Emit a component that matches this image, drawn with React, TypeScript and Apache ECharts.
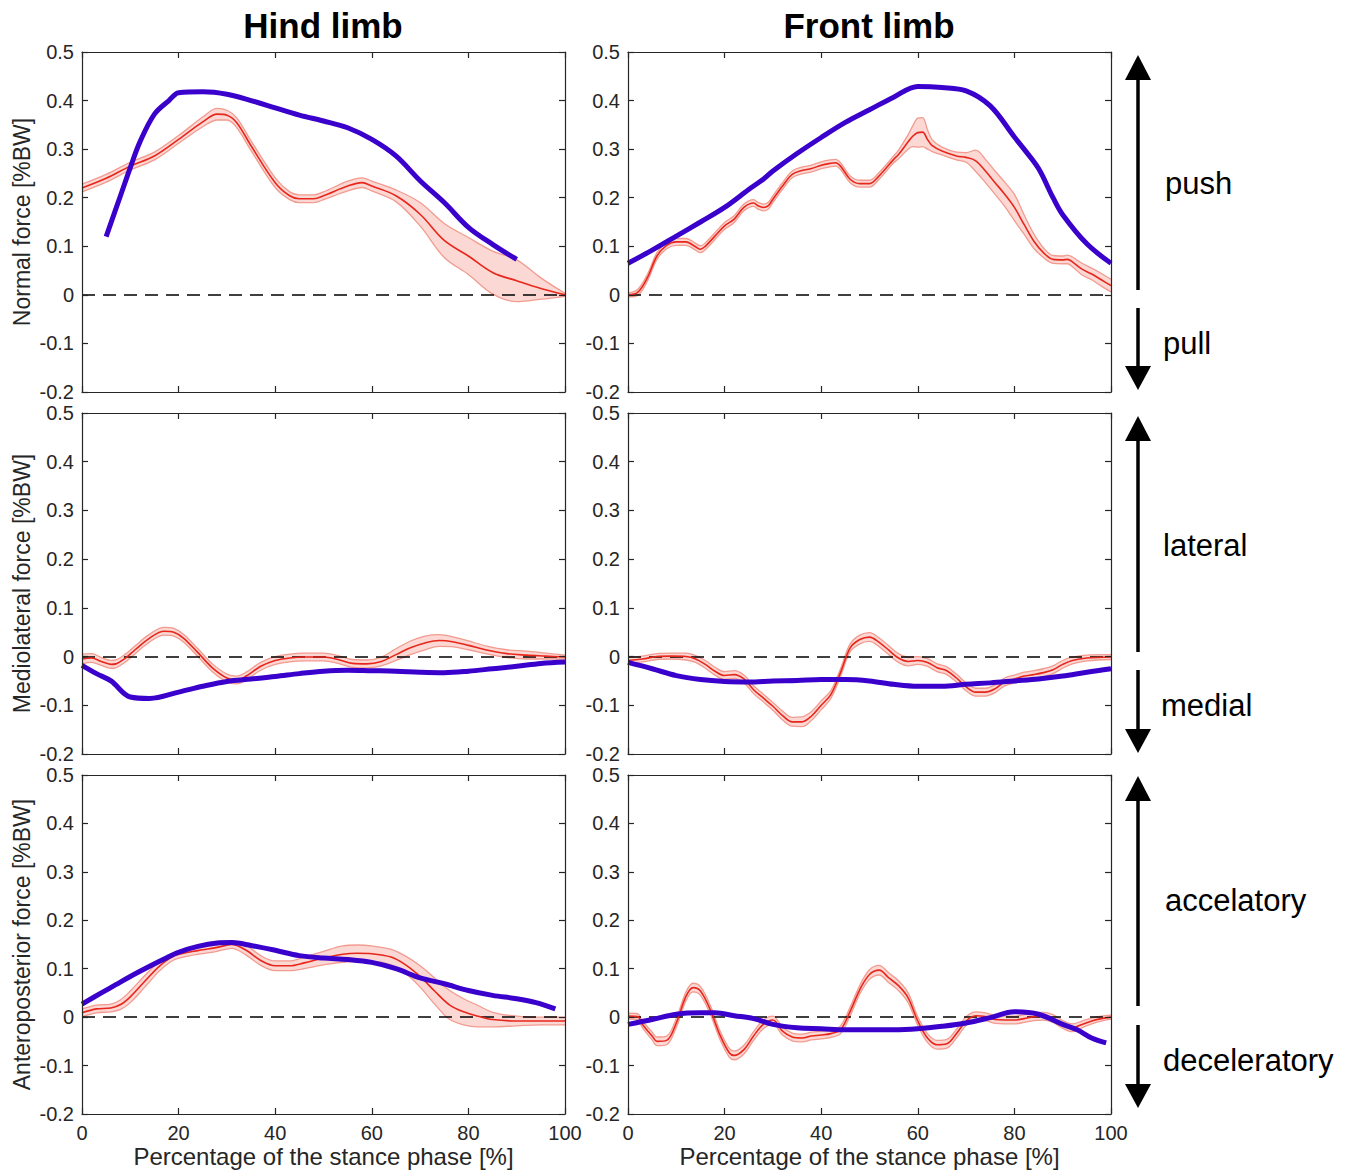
import React, { useEffect, useRef } from "react";
import * as echarts from "echarts";

// ---------- Data ----------
// Hind limb, normal force
const hindNormalX = [0, 5, 10, 15, 20, 25, 28, 30, 32, 35, 40, 43, 45, 48, 50, 55, 58, 60, 65, 70, 75, 80, 85, 90, 95, 100];
const hindNormalMean = [0.22, 0.24, 0.265, 0.286, 0.32, 0.356, 0.372, 0.37, 0.355, 0.307, 0.231, 0.204, 0.198, 0.198, 0.204, 0.224, 0.231, 0.224, 0.204, 0.166, 0.112, 0.08, 0.046, 0.029, 0.013, 0];
const hindNormalSd = [0.008, 0.008, 0.008, 0.008, 0.008, 0.01, 0.012, 0.01, 0.01, 0.01, 0.01, 0.008, 0.008, 0.008, 0.008, 0.01, 0.01, 0.01, 0.012, 0.024, 0.035, 0.038, 0.044, 0.043, 0.022, 0.003];
const hindNormalBlueX = [5, 8, 10, 12, 15, 18, 20, 25, 30, 35, 40, 45, 50, 55, 60, 65, 70, 75, 80, 85, 90];
const hindNormalBlue = [0.12, 0.205, 0.262, 0.315, 0.372, 0.4, 0.416, 0.418, 0.413, 0.4, 0.385, 0.37, 0.358, 0.344, 0.32, 0.286, 0.235, 0.19, 0.139, 0.104, 0.073];

// Front limb, normal force
const frontNormalX = [0, 2, 4, 6, 8, 10, 12, 14, 15, 16, 18, 20, 22, 24, 26, 27, 28, 29, 30, 32, 34, 36, 38, 40, 42, 43, 44, 46, 48, 50, 52, 55, 56, 58, 59, 60, 61, 62, 63, 65, 68, 70, 72, 74, 76, 78, 80, 82, 84, 86, 88, 90, 91, 92, 94, 96, 98, 100];
const frontNormalMean = [0, 0.005, 0.035, 0.08, 0.102, 0.109, 0.109, 0.099, 0.094, 0.1, 0.121, 0.142, 0.156, 0.18, 0.189, 0.183, 0.18, 0.183, 0.197, 0.224, 0.248, 0.256, 0.26, 0.267, 0.271, 0.272, 0.265, 0.238, 0.229, 0.229, 0.245, 0.279, 0.289, 0.315, 0.327, 0.334, 0.335, 0.32, 0.307, 0.296, 0.286, 0.283, 0.276, 0.255, 0.231, 0.207, 0.18, 0.145, 0.111, 0.087, 0.073, 0.072, 0.073, 0.068, 0.053, 0.043, 0.031, 0.019];
const frontNormalSd = [0.004, 0.006, 0.007, 0.007, 0.007, 0.007, 0.007, 0.007, 0.007, 0.007, 0.007, 0.007, 0.007, 0.007, 0.007, 0.007, 0.007, 0.007, 0.007, 0.007, 0.007, 0.007, 0.007, 0.007, 0.007, 0.007, 0.007, 0.007, 0.007, 0.007, 0.007, 0.007, 0.009, 0.015, 0.022, 0.03, 0.03, 0.02, 0.012, 0.008, 0.008, 0.01, 0.022, 0.024, 0.024, 0.025, 0.027, 0.02, 0.015, 0.01, 0.008, 0.008, 0.009, 0.01, 0.012, 0.012, 0.013, 0.013];
const frontNormalBlueX = [0, 5, 10, 15, 20, 25, 28, 30, 35, 40, 45, 50, 55, 60, 65, 70, 75, 80, 82, 85, 88, 90, 95, 100];
const frontNormalBlue = [0.065, 0.092, 0.121, 0.15, 0.18, 0.217, 0.238, 0.255, 0.291, 0.324, 0.355, 0.381, 0.407, 0.429, 0.427, 0.42, 0.389, 0.325, 0.3, 0.26, 0.2, 0.165, 0.105, 0.065];

// Hind limb, mediolateral force
const hindMedX = [0, 2, 4, 6, 7, 9, 11, 14, 17, 19, 21, 24, 27, 30, 32, 34, 37, 40, 43, 46, 50, 53, 56, 59, 62, 65, 68, 71, 74, 77, 80, 84, 88, 92, 96, 100];
const hindMedMean = [-0.005, -0.003, -0.01, -0.016, -0.015, -0.003, 0.014, 0.038, 0.052, 0.05, 0.038, 0.008, -0.023, -0.044, -0.048, -0.04, -0.02, -0.008, -0.003, -0.001, -0.001, -0.006, -0.014, -0.015, -0.01, 0.004, 0.018, 0.028, 0.033, 0.03, 0.023, 0.013, 0.006, 0.003, 0.001, -0.001];
const hindMedSd = [0.01, 0.009, 0.008, 0.008, 0.008, 0.008, 0.008, 0.008, 0.008, 0.008, 0.008, 0.008, 0.008, 0.008, 0.008, 0.008, 0.008, 0.008, 0.008, 0.008, 0.008, 0.008, 0.008, 0.008, 0.009, 0.012, 0.014, 0.014, 0.012, 0.01, 0.009, 0.008, 0.008, 0.008, 0.006, 0.004];
const hindMedBlueX = [0, 3, 6, 10, 14, 20, 25, 30, 35, 40, 45, 50, 55, 60, 65, 70, 75, 80, 85, 90, 95, 100];
const hindMedBlue = [-0.018, -0.035, -0.05, -0.083, -0.086, -0.073, -0.061, -0.051, -0.046, -0.041, -0.035, -0.03, -0.028, -0.029, -0.03, -0.032, -0.033, -0.03, -0.025, -0.02, -0.014, -0.011];

// Front limb, mediolateral force
const frontMedX = [0, 3, 6, 9, 12, 14, 16, 18, 20, 22, 24, 26, 28, 30, 32, 34, 36, 38, 40, 42, 44, 46, 48, 50, 52, 54, 56, 58, 60, 62, 64, 66, 68, 70, 72, 74, 76, 78, 80, 82, 84, 86, 88, 90, 92, 95, 100];
const frontMedMean = [-0.008, -0.005, 0, 0.001, 0, -0.005, -0.016, -0.03, -0.039, -0.037, -0.046, -0.068, -0.085, -0.102, -0.121, -0.134, -0.134, -0.122, -0.1, -0.078, -0.033, 0.018, 0.035, 0.04, 0.029, 0.013, -0.003, -0.01, -0.008, -0.012, -0.023, -0.029, -0.044, -0.062, -0.073, -0.073, -0.066, -0.052, -0.046, -0.04, -0.037, -0.033, -0.027, -0.016, -0.008, -0.003, -0.001];
const frontMedSd = [0.006, 0.006, 0.006, 0.006, 0.007, 0.007, 0.008, 0.008, 0.008, 0.008, 0.008, 0.008, 0.008, 0.008, 0.009, 0.009, 0.01, 0.009, 0.009, 0.008, 0.008, 0.008, 0.009, 0.009, 0.009, 0.009, 0.009, 0.009, 0.008, 0.008, 0.008, 0.008, 0.008, 0.008, 0.008, 0.008, 0.008, 0.008, 0.008, 0.008, 0.008, 0.008, 0.008, 0.008, 0.007, 0.006, 0.005];
const frontMedBlueX = [0, 5, 10, 15, 20, 25, 30, 35, 40, 45, 50, 55, 60, 65, 70, 75, 80, 85, 90, 95, 100];
const frontMedBlue = [-0.012, -0.025, -0.039, -0.047, -0.051, -0.052, -0.05, -0.049, -0.047, -0.047, -0.05, -0.057, -0.061, -0.061, -0.057, -0.054, -0.05, -0.046, -0.04, -0.032, -0.025];

// Hind limb, anteroposterior force
const hindApX = [0, 3, 6, 8, 10, 13, 16, 19, 22, 25, 28, 31, 34, 37, 40, 43, 46, 50, 54, 57, 60, 64, 67, 70, 73, 76, 79, 82, 85, 90, 95, 100];
const hindApMean = [0.009, 0.017, 0.019, 0.026, 0.042, 0.074, 0.105, 0.126, 0.134, 0.139, 0.144, 0.15, 0.138, 0.117, 0.106, 0.106, 0.112, 0.122, 0.13, 0.132, 0.131, 0.124, 0.108, 0.084, 0.054, 0.026, 0.011, 0.002, -0.005, -0.008, -0.008, -0.008];
const hindApSd = [0.008, 0.008, 0.008, 0.01, 0.012, 0.012, 0.01, 0.008, 0.008, 0.008, 0.008, 0.008, 0.01, 0.01, 0.01, 0.01, 0.012, 0.014, 0.017, 0.017, 0.016, 0.016, 0.018, 0.022, 0.027, 0.03, 0.027, 0.022, 0.015, 0.01, 0.008, 0.008];
const hindApBlueX = [0, 4, 7, 10, 14, 17, 20, 24, 28, 31, 35, 40, 45, 50, 55, 60, 65, 70, 75, 80, 85, 90, 94, 98];
const hindApBlue = [0.027, 0.05, 0.067, 0.084, 0.105, 0.12, 0.134, 0.146, 0.153, 0.154, 0.148, 0.138, 0.127, 0.122, 0.119, 0.113, 0.1, 0.081, 0.069, 0.055, 0.045, 0.038, 0.03, 0.017];

// Front limb, anteroposterior force
const frontApX = [0, 2, 3, 5, 6, 8, 10, 12, 13.5, 15, 17, 19, 21, 22, 24, 26, 28, 30, 32, 34, 36, 38, 40, 42, 44, 46, 48, 50, 52, 54, 56, 58, 60, 62, 64, 66, 68, 70, 72, 74, 76, 78, 80, 82, 84, 86, 88, 90, 92, 94, 96, 98, 100];
const frontApMean = [0.002, 0.001, -0.015, -0.039, -0.05, -0.048, -0.012, 0.043, 0.061, 0.054, 0.016, -0.036, -0.074, -0.079, -0.067, -0.039, -0.015, -0.006, -0.029, -0.041, -0.043, -0.039, -0.037, -0.034, -0.026, 0.012, 0.057, 0.088, 0.097, 0.081, 0.065, 0.04, -0.008, -0.043, -0.057, -0.055, -0.034, -0.008, 0.003, 0.001, -0.005, -0.006, -0.006, -0.003, 0.001, 0.002, -0.003, -0.015, -0.022, -0.015, -0.008, -0.003, 0];
const frontApSd = [0.006, 0.006, 0.007, 0.008, 0.009, 0.009, 0.009, 0.009, 0.009, 0.009, 0.009, 0.009, 0.009, 0.009, 0.009, 0.009, 0.009, 0.008, 0.008, 0.008, 0.008, 0.008, 0.008, 0.008, 0.008, 0.009, 0.009, 0.01, 0.01, 0.01, 0.01, 0.01, 0.009, 0.009, 0.009, 0.009, 0.009, 0.009, 0.008, 0.008, 0.008, 0.008, 0.008, 0.008, 0.008, 0.008, 0.008, 0.008, 0.008, 0.007, 0.006, 0.005, 0.004];
const frontApBlueX = [0, 5, 10, 15, 18, 22, 26, 30, 35, 40, 45, 50, 55, 60, 65, 70, 75, 80, 85, 90, 93, 96, 99];
const frontApBlue = [-0.015, -0.005, 0.006, 0.009, 0.009, 0.003, -0.003, -0.015, -0.022, -0.024, -0.026, -0.026, -0.026, -0.024, -0.019, -0.012, -0.001, 0.011, 0.006, -0.015, -0.026, -0.043, -0.053];

const columnTitles = ["Hind limb", "Front limb"];
const rowLabels = ["Normal force [%BW]", "Mediolateral force [%BW]", "Anteroposterior force [%BW]"];
const xAxisTitle = "Percentage of the stance phase [%]";
const directionLabels = ["push", "pull", "lateral", "medial", "accelatory", "deceleratory"];
const xTicks = { min: 0, max: 100, interval: 20 };
const yTicks = { min: -0.2, max: 0.5, interval: 0.1 };

// ---------- Layout / style ----------
const FONT = "'Liberation Sans', Arial, Helvetica, sans-serif";
const AXIS_COLOR = "#262626";
const RED = "#e8261b";
const BAND_EDGE = "#f29b90";
const BAND_FILL = "#fbd8d3";
const BLUE = "#3a00cc";

const colLeft = [82, 628];
const colWidth = 483;
const rowTop = [52, 413, 775];
const rowHeight = [340, 341, 339];

type Panel = { x: number[]; mean: number[]; sd: number[]; bx: number[]; by: number[]; row: number; col: number };
const panels: Panel[] = [
  { x: hindNormalX, mean: hindNormalMean, sd: hindNormalSd, bx: hindNormalBlueX, by: hindNormalBlue, row: 0, col: 0 },
  { x: frontNormalX, mean: frontNormalMean, sd: frontNormalSd, bx: frontNormalBlueX, by: frontNormalBlue, row: 0, col: 1 },
  { x: hindMedX, mean: hindMedMean, sd: hindMedSd, bx: hindMedBlueX, by: hindMedBlue, row: 1, col: 0 },
  { x: frontMedX, mean: frontMedMean, sd: frontMedSd, bx: frontMedBlueX, by: frontMedBlue, row: 1, col: 1 },
  { x: hindApX, mean: hindApMean, sd: hindApSd, bx: hindApBlueX, by: hindApBlue, row: 2, col: 0 },
  { x: frontApX, mean: frontApMean, sd: frontApSd, bx: frontApBlueX, by: frontApBlue, row: 2, col: 1 },
];

const pairs = (xs: number[], ys: number[]) => xs.map((x, i) => [x, ys[i]]);
const fmtY = (v: number) => String(Math.round(v * 10) / 10);

function buildOption() {
  const grid: any[] = [];
  const xAxis: any[] = [];
  const yAxis: any[] = [];
  const series: any[] = [];

  panels.forEach((p, i) => {
    grid.push({ left: colLeft[p.col], top: rowTop[p.row], width: colWidth, height: rowHeight[p.row], show: false });
    const bottomRow = p.row === 2;
    const axisLine = { show: true, onZero: false, lineStyle: { color: AXIS_COLOR, width: 1.2 } };
    const axisTick = { show: true, inside: true, length: 6, lineStyle: { color: AXIS_COLOR, width: 1.2 } };
    xAxis.push({
      type: "value", gridIndex: i, position: "bottom", ...xTicks, z: 10,
      axisLine, axisTick, splitLine: { show: false },
      axisLabel: { show: bottomRow, fontSize: 20, color: AXIS_COLOR, fontFamily: FONT, margin: 9 },
      name: bottomRow ? xAxisTitle : "", nameLocation: "middle", nameGap: 30,
      nameTextStyle: { fontSize: 24, color: AXIS_COLOR, fontFamily: FONT },
    });
    xAxis.push({
      type: "value", gridIndex: i, position: "top", ...xTicks, z: 10,
      axisLine, axisTick, splitLine: { show: false }, axisLabel: { show: false },
    });
    yAxis.push({
      type: "value", gridIndex: i, position: "left", ...yTicks, z: 10,
      axisLine, axisTick, splitLine: { show: false },
      axisLabel: { show: true, fontSize: 20, color: AXIS_COLOR, fontFamily: FONT, margin: 8, formatter: fmtY },
      name: p.col === 0 ? rowLabels[p.row] : "", nameLocation: "middle", nameGap: 49,
      nameTextStyle: { fontSize: 23, color: AXIS_COLOR, fontFamily: FONT },
    });
    yAxis.push({
      type: "value", gridIndex: i, position: "right", ...yTicks, z: 10,
      axisLine, axisTick, splitLine: { show: false }, axisLabel: { show: false },
    });

    const lo = p.mean.map((m, k) => m - p.sd[k]);
    const hi = p.mean.map((m, k) => m + p.sd[k]);
    const common = { xAxisIndex: 2 * i, yAxisIndex: 2 * i, symbol: "none", silent: true, smooth: 0.35 };
    // Band: upper edge filled pink down to the axis minimum, then lower edge filled white,
    // leaving the pink region between the two edges.
    series.push({
      ...common, type: "line", name: "hi" + i, data: pairs(p.x, hi),
      lineStyle: { color: BAND_EDGE, width: 1.3 }, areaStyle: { color: BAND_FILL, opacity: 1, origin: "start" }, z: 1,
    });
    series.push({
      ...common, type: "line", name: "lo" + i, data: pairs(p.x, lo),
      lineStyle: { color: BAND_EDGE, width: 1.3 }, areaStyle: { color: "#ffffff", opacity: 1, origin: "start" }, z: 1,
    });
    series.push({
      ...common, type: "line", name: "mean" + i, data: pairs(p.x, p.mean),
      lineStyle: { color: RED, width: 1.6 }, z: 3,
      markLine: {
        silent: true, symbol: "none", label: { show: false }, z: 3,
        lineStyle: { color: "#000", width: 1.6, type: [13, 8] },
        data: [{ yAxis: 0 }],
      },
    });
    series.push({
      ...common, type: "line", name: "blue" + i, data: pairs(p.bx, p.by),
      lineStyle: { color: BLUE, width: 5 }, z: 4,
    });
  });

  // Column titles and right-hand direction arrows
  const graphic: any[] = [];
  const titleX = [323, 869];
  columnTitles.forEach((t, c) => {
    graphic.push({
      type: "text", x: titleX[c], y: 25,
      style: { text: t, font: `bold 35px ${FONT}`, fill: "#000", align: "center", verticalAlign: "middle" },
    });
  });

  const AX = 1138;
  const arrows = [
    { tip: 55, base: 80, end: 290 },
    { tip: 390, base: 366, end: 308 },
    { tip: 416, base: 441, end: 652 },
    { tip: 753, base: 729, end: 670 },
    { tip: 776, base: 801, end: 1006 },
    { tip: 1108, base: 1084, end: 1025 },
  ];
  arrows.forEach((a) => {
    graphic.push({ type: "line", shape: { x1: AX, y1: a.base, x2: AX, y2: a.end }, style: { stroke: "#000", lineWidth: 3.5 } });
    graphic.push({ type: "polygon", shape: { points: [[AX, a.tip], [AX - 13, a.base], [AX + 13, a.base]] }, style: { fill: "#000" } });
  });
  const labelPos = [
    [1165, 183], [1163, 343], [1163, 545], [1161, 705], [1165, 900], [1163, 1060],
  ];
  directionLabels.forEach((t, k) => {
    graphic.push({
      type: "text", x: labelPos[k][0], y: labelPos[k][1],
      style: { text: t, font: `31px ${FONT}`, fill: "#000", align: "left", verticalAlign: "middle" },
    });
  });

  return {
    animation: false,
    backgroundColor: "#fff",
    textStyle: { fontFamily: FONT },
    grid, xAxis, yAxis, series, graphic,
  };
}

export default function App() {
  const ref = useRef<HTMLDivElement>(null);
  useEffect(() => {
    if (!ref.current) return;
    const chart = echarts.init(ref.current, null, { renderer: "svg" });
    chart.setOption(buildOption() as any);
    return () => chart.dispose();
  }, []);
  return (
    <div
      ref={ref}
      style={{ position: "absolute", left: 0, top: 0, width: 1357, height: 1172, background: "#fff" }}
    />
  );
}
